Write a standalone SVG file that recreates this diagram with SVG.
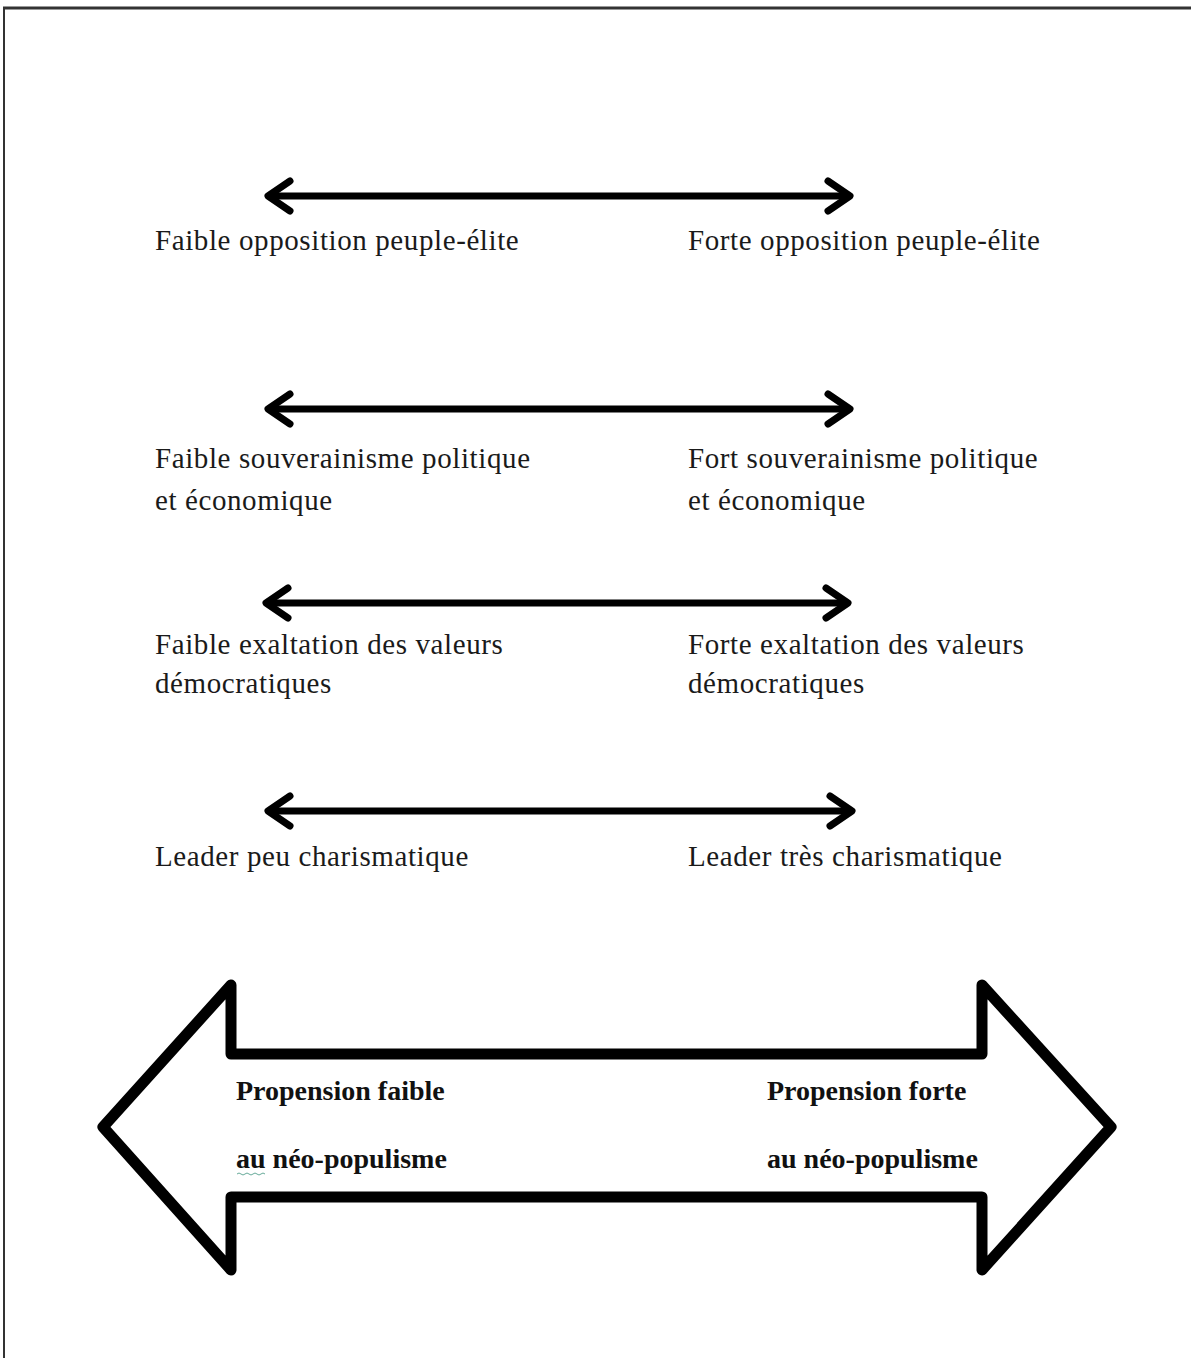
<svg xmlns="http://www.w3.org/2000/svg" width="1191" height="1358" viewBox="0 0 1191 1358">
<style>
.lbl{font-family:"Liberation Serif","Times New Roman",serif;font-size:29px;letter-spacing:0.6px;fill:#1a1a1a}
.big{font-family:"Liberation Serif","Times New Roman",serif;font-size:28px;font-weight:bold;fill:#111}
.ax{stroke:#000;stroke-width:7;fill:none;stroke-linecap:round;stroke-linejoin:round}
</style>
<rect width="1191" height="1358" fill="#fff"/>
<g id="frame">
<line x1="3" y1="8" x2="1191" y2="8" stroke="#333" stroke-width="3"/>
<line x1="4" y1="7" x2="4" y2="1358" stroke="#333" stroke-width="2"/>
</g>
<g id="connectors">
<g id="axis1"><line class="ax" x1="270" y1="196" x2="848" y2="196"/><polyline class="ax" points="290,181 268,196 290,211"/><polyline class="ax" points="828,181 850,196 828,211"/></g>
<g id="axis2"><line class="ax" x1="270" y1="409" x2="848" y2="409"/><polyline class="ax" points="290,394 268,409 290,424"/><polyline class="ax" points="828,394 850,409 828,424"/></g>
<g id="axis3"><line class="ax" x1="268" y1="603" x2="846" y2="603"/><polyline class="ax" points="288,588 266,603 288,618"/><polyline class="ax" points="826,588 848,603 826,618"/></g>
<g id="axis4"><line class="ax" x1="270" y1="811" x2="850" y2="811"/><polyline class="ax" points="290,796 268,811 290,826"/><polyline class="ax" points="830,796 852,811 830,826"/></g>
</g>
<g id="n1-left"><text class="lbl" x="155" y="250">Faible opposition peuple-élite</text></g>
<g id="n1-right"><text class="lbl" x="688" y="250">Forte opposition peuple-élite</text></g>
<g id="n2-left"><text class="lbl" x="155" y="468">Faible souverainisme politique</text><text class="lbl" x="155" y="510">et économique</text></g>
<g id="n2-right"><text class="lbl" x="688" y="468">Fort souverainisme politique</text><text class="lbl" x="688" y="510">et économique</text></g>
<g id="n3-left"><text class="lbl" x="155" y="654">Faible exaltation des valeurs</text><text class="lbl" x="155" y="693">démocratiques</text></g>
<g id="n3-right"><text class="lbl" x="688" y="654">Forte exaltation des valeurs</text><text class="lbl" x="688" y="693">démocratiques</text></g>
<g id="n4-left"><text class="lbl" x="155" y="866">Leader peu charismatique</text></g>
<g id="n4-right"><text class="lbl" x="688" y="866">Leader très charismatique</text></g>
<g id="big-arrow">
<path d="M103,1127 L231,985 L231,1054 L982,1054 L982,985 L1111,1127 L982,1270 L982,1197 L231,1197 L231,1270 Z" fill="#fff" stroke="#000" stroke-width="11" stroke-linejoin="round"/>
<text class="big" x="236" y="1100">Propension faible</text>
<text class="big" x="236" y="1168">au néo-populisme</text>
<path d="M237,1174 q2,-2 4,0 t4,0 t4,0 t4,0 t4,0 t4,0 t4,0" fill="none" stroke="#6a9" stroke-width="1"/>
<text class="big" x="767" y="1100">Propension forte</text>
<text class="big" x="767" y="1168">au néo-populisme</text>
</g>
</svg>
